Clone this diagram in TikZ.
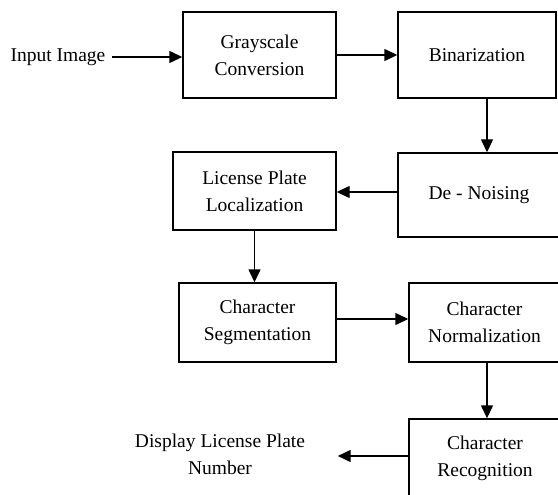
\documentclass[tikz,border=0pt]{standalone}
\usepackage{fontspec}
\setmainfont{Liberation Serif}
\usetikzlibrary{arrows.meta,positioning}

\begin{document}
\begin{tikzpicture}[x=1pt,y=-1pt,>={Triangle[length=13pt,width=12pt]},
                    line width=1.4pt,
                    font=\fontsize{19.5}{27}\selectfont,
                    block/.style={draw,align=center,inner sep=0pt},
                    label/.style={align=center,inner sep=0pt}]

  \clip (0,0) rectangle (558,495);

  \node[label]  (in)   at (58,57)      {Input Image};
  \node[block,minimum width=153pt,minimum height=86pt] (gray) at (259.5,55) {Grayscale\\Conversion};
  \node[block,minimum width=158pt,minimum height=86pt] (bin)  at (477,55)   {Binarization};
  \node[block,minimum width=162pt,minimum height=84pt] (den)  at (479,195)  {De - Noising};
  \node[block,minimum width=163pt,minimum height=78pt] (loc)  at (254.5,191) {License Plate\\Localization};
  \node[block,minimum width=157pt,minimum height=79pt] (seg)  at (257.5,322.5) {Character\\Segmentation};
  \node[block,minimum width=151pt,minimum height=79pt] (norm) at (484.5,322.5) {Character\\Normalization};
  \node[block,minimum width=152pt,minimum height=78pt] (rec)  at (485,458) {Character\\Recognition};
  \node[label]  (disp) at (220,454)    {Display License Plate\\Number};

  \draw[->] ([xshift=6pt]in.east) -- (in -| gray.west);
  \draw[->] (gray.east) -- (bin.west);
  \draw[->] ([xshift=10pt]bin.south) -- ([xshift=10pt]bin.south |- den.north);
  \draw[->] (den.west |- 0,192) -- (loc.east |- 0,192);
  \draw[->] (loc.south) -- (loc.south |- seg.north);
  \draw[->] (seg.east |- 0,319) -- (norm.west |- 0,319);
  \draw[->] ([xshift=2.5pt]norm.south) -- ([xshift=2.5pt]norm.south |- rec.north);
  \draw[->] (rec.west |- 0,456) -- ([xshift=32pt]disp.east |- 0,456);
\end{tikzpicture}
\end{document}
